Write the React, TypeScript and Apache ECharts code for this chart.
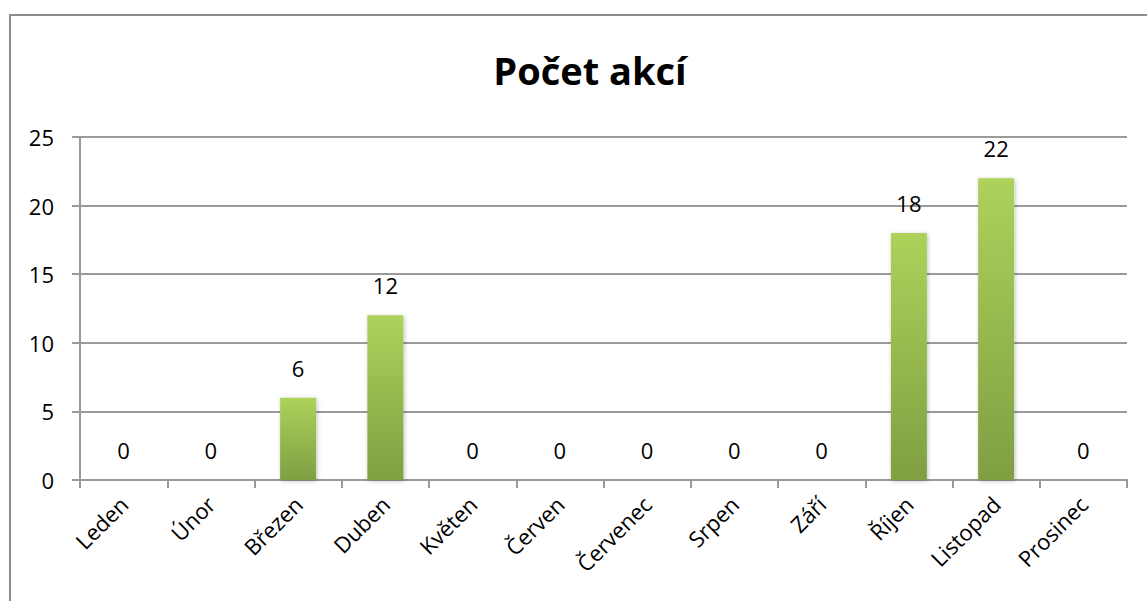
import React, { useEffect, useRef } from "react";
import * as echarts from "echarts";

const months = ["Leden", "Únor", "Březen", "Duben", "Květen", "Červen", "Červenec", "Srpen", "Září", "Říjen", "Listopad", "Prosinec"];
const counts = [0, 0, 6, 12, 0, 0, 0, 0, 0, 18, 22, 0];
const chartTitle = "Počet akcí";

export default function App() {
  const ref = useRef<HTMLDivElement>(null);
  useEffect(() => {
    const chart = echarts.init(ref.current!, null, { renderer: "svg" });
    const font = "'Open Sans', sans-serif";
    chart.setOption({
      animation: false,
      backgroundColor: "#fff",
      title: {
        text: chartTitle,
        left: 585,
        top: 46,
        textAlign: "center",
        textStyle: { fontFamily: font, fontSize: 38, fontWeight: "bold", color: "#000" },
      },
      graphic: [
        {
          type: "rect",
          shape: { x: 10, y: 15, width: 1200, height: 700 },
          style: { fill: "none", stroke: "#8c8c8c", lineWidth: 2 },
          silent: true,
        },
      ],
      grid: { left: 80, right: 20, top: 137, bottom: 121, containLabel: false },
      xAxis: {
        type: "category",
        data: months,
        axisLine: { lineStyle: { color: "#9a9a9a", width: 2 } },
        axisTick: { show: true, length: 8, lineStyle: { color: "#9a9a9a", width: 2 }, alignWithLabel: false },
        axisLabel: { rotate: 45, fontFamily: font, fontSize: 22, color: "#000", margin: 20, interval: 0 },
      },
      yAxis: {
        type: "value",
        min: 0,
        max: 25,
        interval: 5,
        axisLine: { show: true, lineStyle: { color: "#9a9a9a", width: 2 } },
        axisTick: { show: true, length: 8, lineStyle: { color: "#9a9a9a", width: 2 } },
        axisLabel: { fontFamily: font, fontSize: 22, color: "#000", margin: 26 },
        splitLine: { lineStyle: { color: "#9a9a9a", width: 2 } },
      },
      series: [
        {
          type: "bar",
          data: counts,
          barWidth: 36,
          itemStyle: {
            color: new echarts.graphic.LinearGradient(0, 0, 0, 1, [
              { offset: 0, color: "#add25b" },
              { offset: 1, color: "#7f9f42" },
            ]),
            shadowColor: "rgba(0,0,0,0.25)",
            shadowBlur: 4,
            shadowOffsetX: 1,
            shadowOffsetY: 1,
          },
          label: {
            show: true,
            position: "top",
            distance: 19,
            fontFamily: font,
            fontSize: 22,
            color: "#000",
          },
        },
      ],
    });
    return () => chart.dispose();
  }, []);
  return (
    <div
      ref={ref}
      style={{ position: "fixed", left: 0, top: 0, width: 1147, height: 601 }}
    />
  );
}
